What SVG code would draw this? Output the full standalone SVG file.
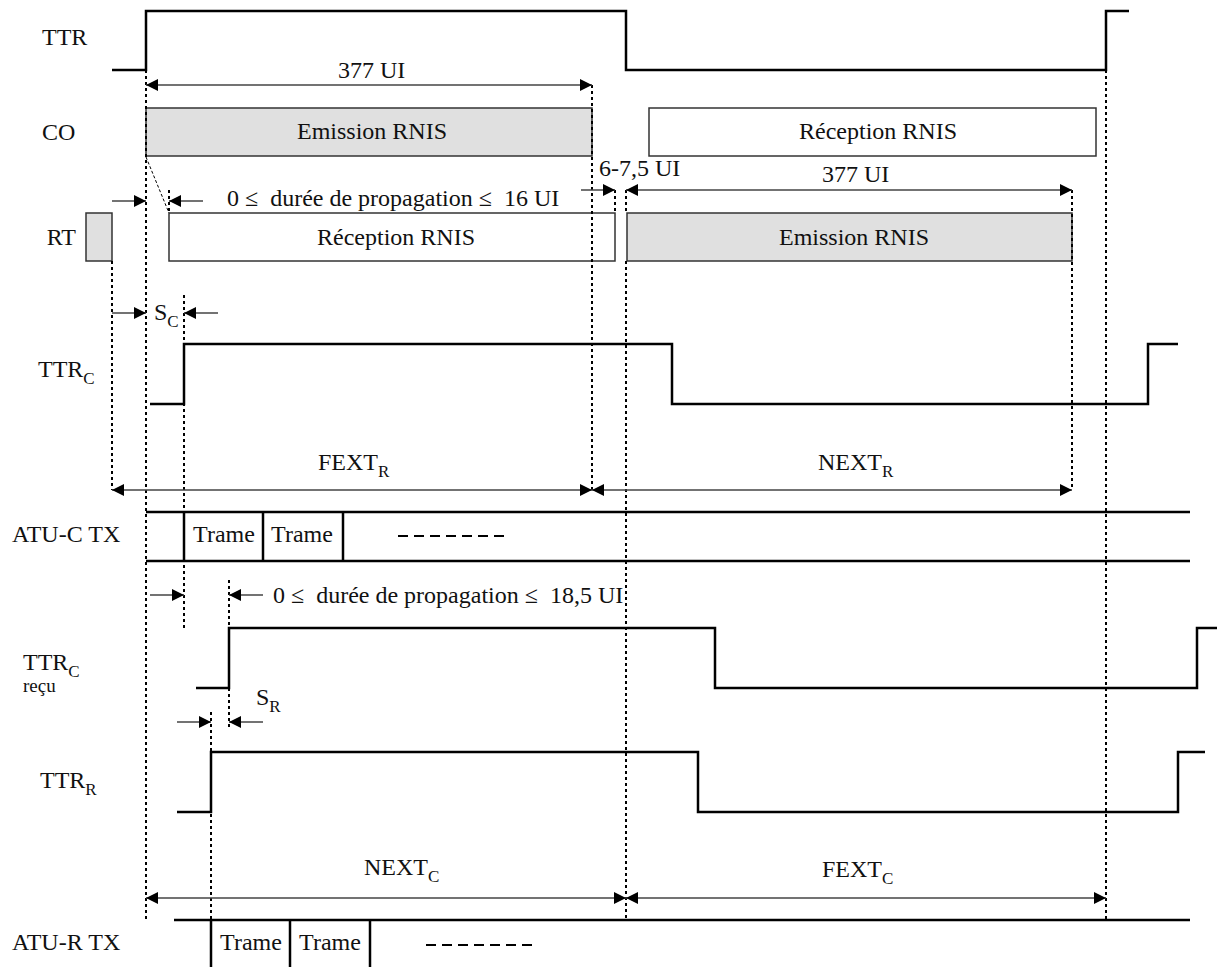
<svg xmlns="http://www.w3.org/2000/svg" width="1219" height="967" viewBox="0 0 1219 967">
<defs>
<marker id="ah" viewBox="0 0 12 12" refX="12" refY="6" markerWidth="12" markerHeight="12" markerUnits="userSpaceOnUse" orient="auto-start-reverse">
<path d="M0,0 L12,6 L0,12 z" fill="#000"/>
</marker>
<style>
text{font-family:"Liberation Serif","Times New Roman",serif;font-size:24px;fill:#111;white-space:pre}
.sub{font-size:17px}
.wave{fill:none;stroke:#000;stroke-width:2.5}
.dot{stroke:#000;stroke-width:2;stroke-dasharray:3 3;fill:none}
.dim{stroke:#444;stroke-width:1.3;fill:none}
.a1{marker-end:url(#ah)}
.a2{marker-start:url(#ah);marker-end:url(#ah)}
.box{stroke:#333;stroke-width:1.5}
.g{fill:#e0e0e0}
.w{fill:#fff}
.bar{stroke:#000;stroke-width:2.5;fill:none}
.dash{stroke:#000;stroke-width:2;stroke-dasharray:10 6}
</style>
</defs>
<rect width="1219" height="967" fill="#fff"/>

<g id="labels">
<text x="42" y="45">TTR</text>
<text x="42" y="140">CO</text>
<text x="76" y="245" text-anchor="end">RT</text>
<text x="38" y="377">TTR<tspan class="sub" dy="7">C</tspan></text>
<text x="12" y="542">ATU-C TX</text>
<text x="23" y="670">TTR<tspan class="sub" dy="7">C</tspan></text>
<text x="23" y="692" style="font-size:19px">reçu</text>
<text x="40" y="788">TTR<tspan class="sub" dy="7">R</tspan></text>
<text x="12" y="950">ATU-R TX</text>
</g>

<g id="waveforms">
<polyline class="wave" points="112,70 146,70 146,11 626,11 626,70 1106,70 1106,11 1129,11"/>
<polyline class="wave" points="150,404 184,404 184,344 672,344 672,404 1148,404 1148,344 1178,344"/>
<polyline class="wave" points="196,688 229,688 229,628 715,628 715,688 1197,688 1197,628 1217,628"/>
<polyline class="wave" points="177,812 211,812 211,752 698,752 698,812 1178,812 1178,752 1205,752"/>
</g>

<g id="co-emission">
<rect class="box g" x="146" y="108" width="446" height="48"/>
<text x="372" y="139" text-anchor="middle">Emission RNIS</text>
</g>
<g id="co-reception">
<rect class="box w" x="649" y="108" width="447" height="48"/>
<text x="878" y="139" text-anchor="middle">Réception RNIS</text>
</g>
<g id="rt-marker">
<rect class="box g" x="86" y="213" width="26" height="48"/>
</g>
<g id="rt-reception">
<rect class="box w" x="169" y="213" width="446" height="48"/>
<text x="396" y="245" text-anchor="middle">Réception RNIS</text>
</g>
<g id="rt-emission">
<rect class="box g" x="627" y="213" width="445" height="48"/>
<text x="854" y="245" text-anchor="middle">Emission RNIS</text>
</g>

<g id="atu-c">
<line class="bar" x1="146" y1="512" x2="1190" y2="512"/>
<line class="bar" x1="146" y1="561" x2="1190" y2="561"/>
<line class="bar" x1="184" y1="512" x2="184" y2="561"/>
<line class="bar" x1="263" y1="512" x2="263" y2="561"/>
<line class="bar" x1="343" y1="512" x2="343" y2="561"/>
<text x="224" y="542" text-anchor="middle">Trame</text>
<text x="302" y="542" text-anchor="middle">Trame</text>
<line class="dash" x1="398" y1="536" x2="504" y2="536"/>
</g>

<g id="atu-r">
<line class="bar" x1="174" y1="920" x2="1190" y2="920"/>
<line class="bar" x1="211" y1="920" x2="211" y2="967"/>
<line class="bar" x1="290" y1="920" x2="290" y2="967"/>
<line class="bar" x1="370" y1="920" x2="370" y2="967"/>
<text x="251" y="950" text-anchor="middle">Trame</text>
<text x="330" y="950" text-anchor="middle">Trame</text>
<line class="dash" x1="426" y1="945" x2="532" y2="945"/>
</g>

<g id="connectors">
<line class="dot" x1="112" y1="261" x2="112" y2="490"/>
<line class="dot" x1="146" y1="70" x2="146" y2="920"/>
<line class="dot" x1="169" y1="190" x2="169" y2="213"/>
<line class="dot" x1="184" y1="295" x2="184" y2="628"/>
<line class="dot" x1="211" y1="712" x2="211" y2="920"/>
<line class="dot" x1="229" y1="580" x2="229" y2="728"/>
<line class="dot" x1="592" y1="85" x2="592" y2="490"/>
<line class="dot" x1="615" y1="190" x2="615" y2="213"/>
<line class="dot" x1="626" y1="190" x2="626" y2="213"/>
<line class="dot" x1="626" y1="261" x2="626" y2="920"/>
<line class="dot" x1="1072" y1="190" x2="1072" y2="490"/>
<line class="dot" x1="1106" y1="70" x2="1106" y2="920"/>
<line x1="146" y1="157" x2="169" y2="213" stroke="#000" stroke-width="1" stroke-dasharray="3 2"/>

<line class="dim a2" x1="146" y1="85" x2="592" y2="85"/>
<line class="dim a1" x1="112" y1="201" x2="146" y2="201"/>
<line class="dim a1" x1="203" y1="201" x2="169" y2="201"/>
<line class="dim a1" x1="581" y1="190" x2="615" y2="190"/>
<line class="dim a2" x1="626" y1="190" x2="1072" y2="190"/>
<line class="dim a1" x1="112" y1="313" x2="146" y2="313"/>
<line class="dim a1" x1="218" y1="313" x2="184" y2="313"/>
<line class="dim a2" x1="112" y1="490" x2="592" y2="490"/>
<line class="dim a2" x1="592" y1="490" x2="1072" y2="490"/>
<line class="dim a1" x1="150" y1="595" x2="184" y2="595"/>
<line class="dim a1" x1="263" y1="595" x2="229" y2="595"/>
<line class="dim a1" x1="177" y1="722" x2="211" y2="722"/>
<line class="dim a1" x1="263" y1="722" x2="229" y2="722"/>
<line class="dim a2" x1="146" y1="898" x2="626" y2="898"/>
<line class="dim a2" x1="626" y1="898" x2="1106" y2="898"/>
</g>

<g id="dimension-labels">
<text x="338" y="78">377 UI</text>
<text x="227" y="206">0 ≤  durée de propagation ≤  16 UI</text>
<text x="599" y="176">6-7,5 UI</text>
<text x="822" y="182">377 UI</text>
<text x="154" y="320">S<tspan class="sub" dy="7">C</tspan></text>
<text x="318" y="470">FEXT<tspan class="sub" dy="7">R</tspan></text>
<text x="818" y="470">NEXT<tspan class="sub" dy="7">R</tspan></text>
<text x="273" y="603">0 ≤  durée de propagation ≤  18,5 UI</text>
<text x="256" y="705">S<tspan class="sub" dy="7">R</tspan></text>
<text x="364" y="875">NEXT<tspan class="sub" dy="7">C</tspan></text>
<text x="822" y="877">FEXT<tspan class="sub" dy="7">C</tspan></text>
</g>
</svg>
